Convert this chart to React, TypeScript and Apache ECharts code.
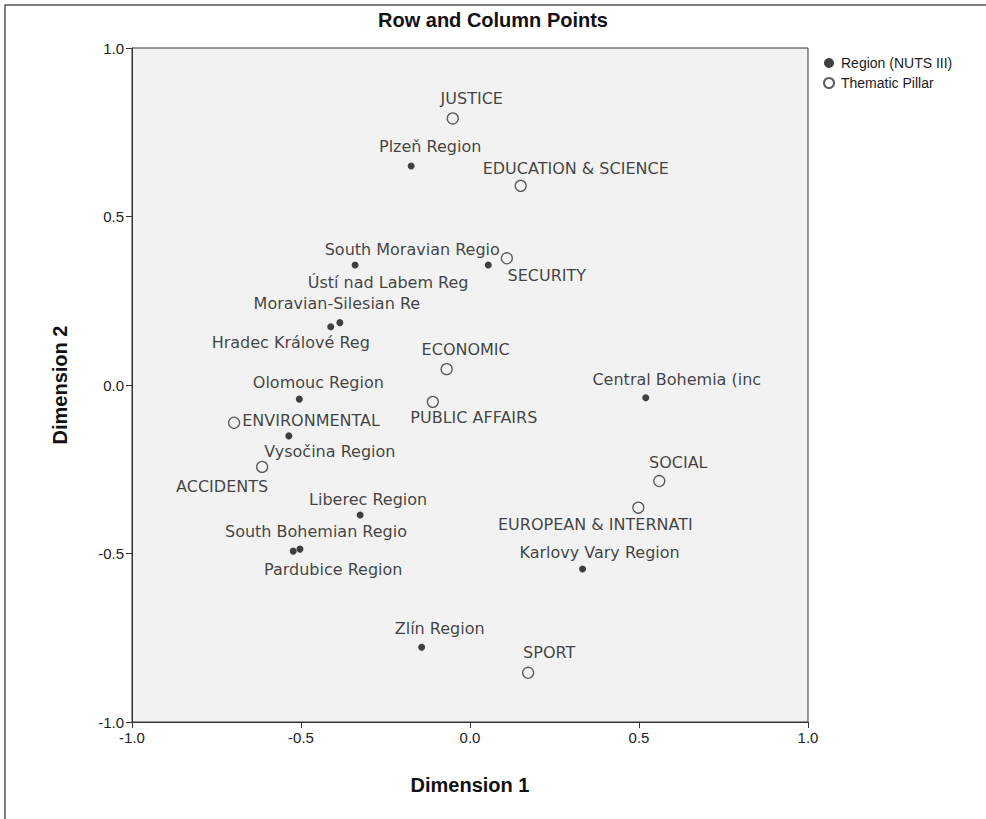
import React, { useEffect, useRef } from "react";
import * as echarts from "echarts";

// Region (NUTS III) points
const regionNames = [
  "Plzeň Region",
  "South Moravian Regio",
  "Ústí nad Labem Reg",
  "Moravian-Silesian Re",
  "Hradec Králové Reg",
  "Olomouc Region",
  "Vysočina Region",
  "Liberec Region",
  "South Bohemian Regio",
  "Pardubice Region",
  "Karlovy Vary Region",
  "Zlín Region",
  "Central Bohemia (inc",
];
const regionDim1 = [-0.174, 0.054, -0.34, -0.385, -0.412, -0.505, -0.536, -0.325, -0.503, -0.523, 0.333, -0.143, 0.52];
const regionDim2 = [0.65, 0.356, 0.356, 0.185, 0.173, -0.042, -0.151, -0.386, -0.487, -0.493, -0.546, -0.778, -0.038];

// Thematic Pillar points
const pillarNames = [
  "JUSTICE",
  "EDUCATION & SCIENCE",
  "SECURITY",
  "ECONOMIC",
  "PUBLIC AFFAIRS",
  "ENVIRONMENTAL",
  "ACCIDENTS",
  "SOCIAL",
  "EUROPEAN & INTERNATI",
  "SPORT",
];
const pillarDim1 = [-0.051, 0.15, 0.109, -0.069, -0.11, -0.698, -0.615, 0.56, 0.498, 0.172];
const pillarDim2 = [0.791, 0.591, 0.376, 0.047, -0.05, -0.112, -0.243, -0.285, -0.364, -0.854];

const axisTicks = [-1, -0.5, 0, 0.5, 1];

// label placement (pixel offsets of label centre from the marker), layout only
const regionLabelOffsets = [
  [19, -19], [-76, -16], [33, 17], [-3, -19], [-40, 16], [19, -17], [41, 16],
  [8, -16], [16, -18], [40, 18], [17, -17], [18, -19], [31, -18],
];
const pillarLabelOffsets = [
  [19, -20], [55, -17], [40, 17], [19, -20], [41, 16], [77, -2], [-40, 20],
  [19, -19], [-43, 17], [21, -20],
];

const labelFont = "'DejaVu Sans', 'Liberation Sans', sans-serif";
const axisFont = "'Liberation Sans', Arial, sans-serif";

export default function App() {
  const ref = useRef<HTMLDivElement>(null);
  useEffect(() => {
    if (!ref.current) return;
    const chart = echarts.init(ref.current, null, { renderer: "svg" });
    const regionData = regionNames.map((n, i) => ({
      name: n,
      value: [regionDim1[i], regionDim2[i]],
    }));
    const pillarData = pillarNames.map((n, i) => ({
      name: n,
      value: [pillarDim1[i], pillarDim2[i]],
    }));
    const labelBase = {
      show: true,
      position: "inside",
      formatter: (p: any) => p.name,
      color: "#111",
      fontFamily: labelFont,
      fontSize: 16,
      align: "center",
      verticalAlign: "middle",
    };
    chart.setOption({
      animation: false,
      backgroundColor: "#ffffff",
      title: {
        text: "Row and Column Points",
        left: "center",
        top: 5,
        textStyle: { fontFamily: axisFont, fontWeight: "bold", fontSize: 20, color: "#111" },
      },
      legend: {
        orient: "vertical",
        left: 818,
        top: 51,
        itemWidth: 10,
        itemHeight: 10,
        itemGap: 6,
        textStyle: { fontFamily: axisFont, fontSize: 14, color: "#1a1a1a", padding: [0, 0, 0, 2] },
        data: ["Region (NUTS III)", "Thematic Pillar"],
      },
      grid: {
        left: 132,
        top: 48,
        width: 676,
        height: 674,
        show: true,
        backgroundColor: "#f2f2f2",
        borderColor: "#333",
        borderWidth: 1,
      },
      xAxis: {
        type: "value",
        min: -1,
        max: 1,
        interval: 0.5,
        name: "Dimension 1",
        nameLocation: "middle",
        nameGap: 53,
        nameTextStyle: { fontFamily: axisFont, fontWeight: "bold", fontSize: 20, color: "#111" },
        axisLine: { show: true, onZero: false, lineStyle: { color: "#333", width: 1 } },
        axisTick: { show: true, length: 6, lineStyle: { color: "#333" } },
        axisLabel: {
          fontFamily: axisFont,
          fontSize: 15,
          color: "#222",
          margin: 8,
          formatter: (v: number) => (axisTicks.includes(v) ? v.toFixed(1) : ""),
        },
        splitLine: { show: false },
      },
      yAxis: {
        type: "value",
        min: -1,
        max: 1,
        interval: 0.5,
        name: "Dimension 2",
        nameLocation: "middle",
        nameGap: 62,
        nameTextStyle: { fontFamily: axisFont, fontWeight: "bold", fontSize: 20, color: "#111" },
        axisLine: { show: true, onZero: false, lineStyle: { color: "#333", width: 1 } },
        axisTick: { show: true, length: 6, lineStyle: { color: "#333" } },
        axisLabel: {
          fontFamily: axisFont,
          fontSize: 15,
          color: "#222",
          margin: 8,
          formatter: (v: number) => (axisTicks.includes(v) ? v.toFixed(1) : ""),
        },
        splitLine: { show: false },
      },
      graphic: [
        {
          type: "rect",
          shape: { x: 5, y: 5, width: 1100, height: 1000 },
          style: { fill: "none", stroke: "#555", lineWidth: 1.5 },
          silent: true,
        },
      ],
      series: [
        {
          name: "Region (NUTS III)",
          type: "scatter",
          symbol: "circle",
          symbolSize: 7,
          itemStyle: { color: "#111" },
          label: labelBase,
          labelLayout: (p: any) => ({
            dx: regionLabelOffsets[p.dataIndex][0],
            dy: regionLabelOffsets[p.dataIndex][1],
            hideOverlap: false,
          }),
          data: regionData,
          z: 3,
        },
        {
          name: "Thematic Pillar",
          type: "scatter",
          symbol: "circle",
          symbolSize: 11,
          itemStyle: { color: "rgba(0,0,0,0)", borderColor: "#333", borderWidth: 1.3 },
          label: labelBase,
          labelLayout: (p: any) => ({
            dx: pillarLabelOffsets[p.dataIndex][0],
            dy: pillarLabelOffsets[p.dataIndex][1],
            hideOverlap: false,
          }),
          data: pillarData,
          z: 2,
        },
      ],
    });
    return () => chart.dispose();
  }, []);
  return (
    <div
      ref={ref}
      style={{ position: "fixed", left: 0, top: 0, width: 986, height: 819 }}
    />
  );
}
